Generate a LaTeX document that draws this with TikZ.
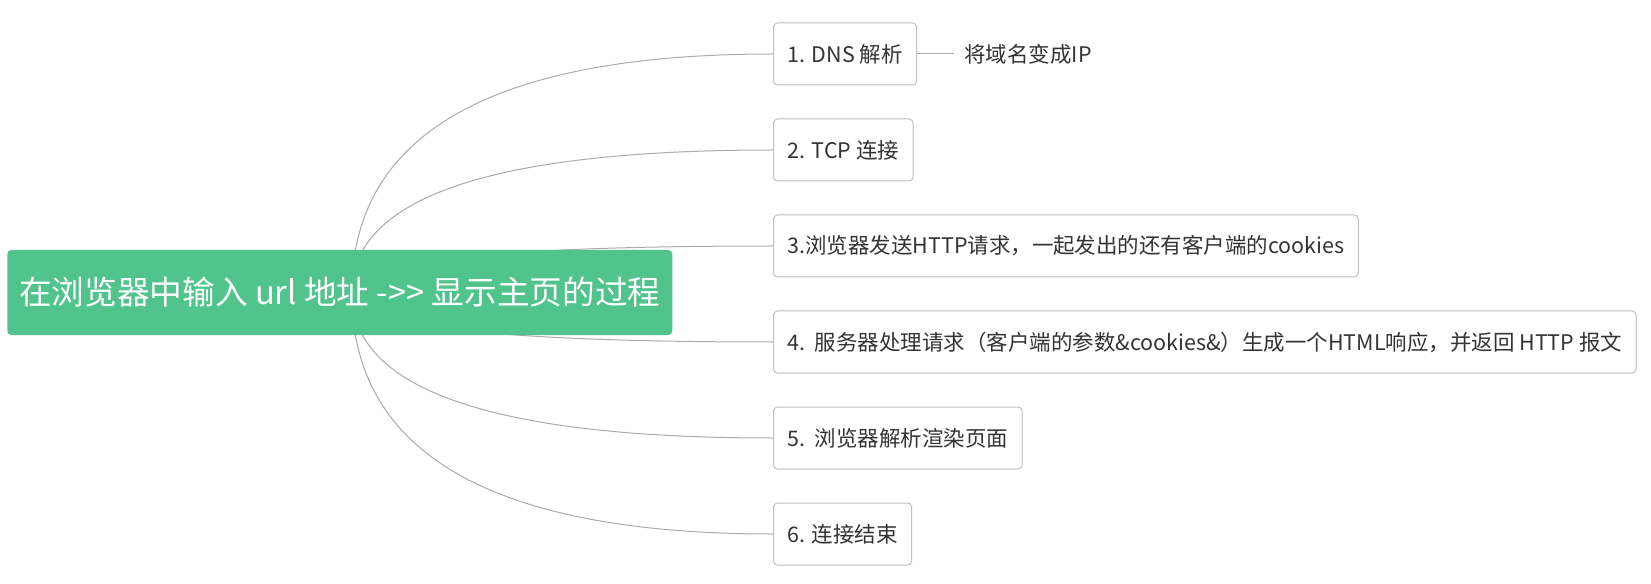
\documentclass[tikz,border=0pt]{standalone}
\usepackage{fontspec}
\setmainfont{Noto Sans CJK SC}[Ligatures=TeXOff]
\usetikzlibrary{positioning,calc,backgrounds}
\definecolor{rootgreen}{RGB}{80,196,140}
\definecolor{textgray}{RGB}{51,51,51}
\definecolor{framegray}{RGB}{192,192,192}
\definecolor{linkgray}{RGB}{170,170,170}

\begin{document}
\begin{tikzpicture}[
        x=0.75pt, y=-0.75pt,
        node distance=24.75pt,
        root/.style={rectangle, fill=rootgreen, text=white, font=\fontsize{24.5}{29}\selectfont, minimum width=498.75pt, minimum height=63.75pt, rounded corners=3pt, inner sep=0pt},
        leaf/.style={rectangle, draw=framegray, line width=0.75pt, fill=white, text=textgray, font=\fontsize{16.1}{19}\selectfont, minimum height=46.5pt, inner xsep=10.5pt, rounded corners=3pt},
        note/.style={text=textgray, font=\fontsize{16.1}{19}\selectfont, inner xsep=7.5pt},
        link/.style={linkgray, line width=0.75pt}
    ]
    \useasboundingbox (0,0) rectangle (1651,584);
    \node[root, anchor=west] (root) at (7,292.5) {在浏览器中输入 url 地址 ->> 显示主页的过程};
    \coordinate (hub) at ([xshift=9pt]root.center);

    \node[leaf, anchor=west] (dns) at (773,54) {1. DNS 解析};
    \node[leaf, below=of dns.south west, anchor=north west] (tcp) {2. TCP 连接};
    \node[leaf, below=of tcp.south west, anchor=north west] (req) {3.浏览器发送HTTP请求，一起发出的还有客户端的cookies};
    \node[leaf, below=of req.south west, anchor=north west] (resp) {4.\ \ 服务器处理请求（客户端的参数\&cookies\&）生成一个HTML响应，并返回 HTTP 报文};
    \node[leaf, below=of resp.south west, anchor=north west] (render) {5.\ \ 浏览器解析渲染页面};
    \node[leaf, below=of render.south west, anchor=north west] (close) {6. 连接结束};
    \node[note, right=27.75pt of dns] (ip) {将域名变成IP};

    \draw[link] (dns) -- (ip);
    \begin{scope}[on background layer]
        \draw[link] (hub) .. controls ($(hub)!2/3!(hub |- dns.west)$) and ($(dns.west)!2/3!(hub |- dns.west)$) .. (dns.west);
        \draw[link] (hub) .. controls ($(hub)!2/3!(hub |- tcp.west)$) and ($(tcp.west)!2/3!(hub |- tcp.west)$) .. (tcp.west);
        \draw[link] (hub) .. controls ($(hub)!2/3!(hub |- req.west)$) and ($(req.west)!2/3!(hub |- req.west)$) .. (req.west);
        \draw[link] (hub) .. controls ($(hub)!2/3!(hub |- resp.west)$) and ($(resp.west)!2/3!(hub |- resp.west)$) .. (resp.west);
        \draw[link] (hub) .. controls ($(hub)!2/3!(hub |- render.west)$) and ($(render.west)!2/3!(hub |- render.west)$) .. (render.west);
        \draw[link] (hub) .. controls ($(hub)!2/3!(hub |- close.west)$) and ($(close.west)!2/3!(hub |- close.west)$) .. (close.west);
    \end{scope}
\end{tikzpicture}
\end{document}
